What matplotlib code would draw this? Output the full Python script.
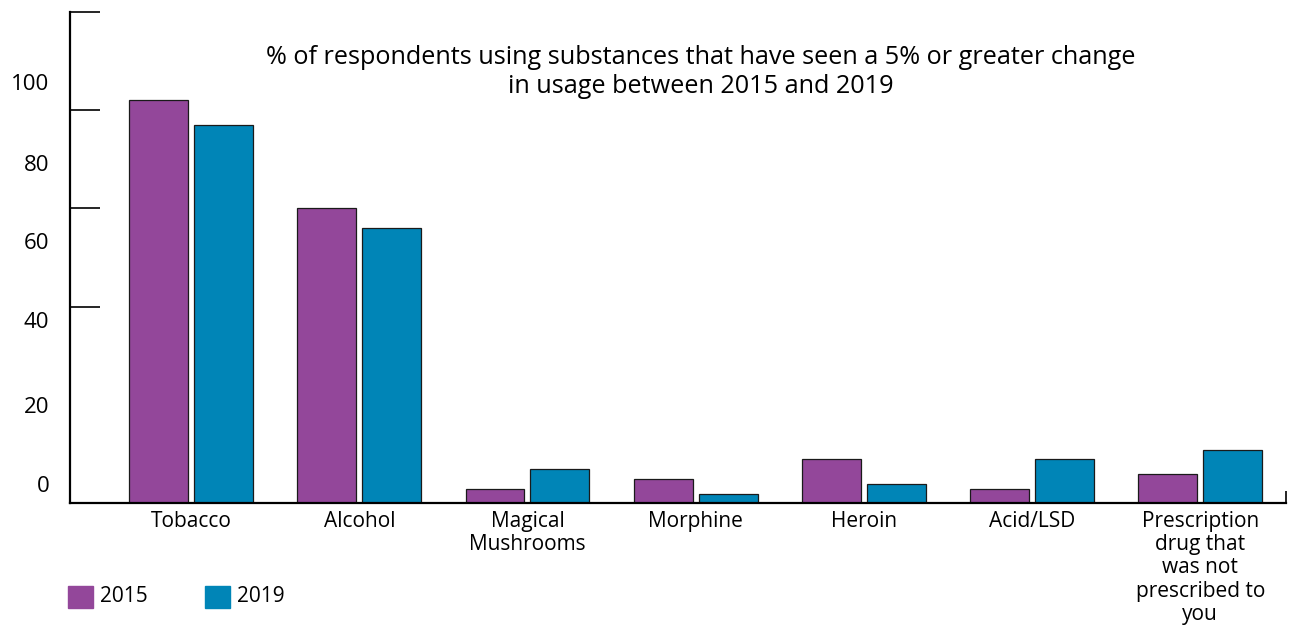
import matplotlib
matplotlib.use("Agg")
import matplotlib.pyplot as plt
import numpy as np

# usage (%) per substance
categories = ["Tobacco", "Alcohol", "Magical\nMushrooms", "Morphine", "Heroin",
              "Acid/LSD", "Prescription\ndrug that\nwas not\nprescribed to\nyou"]
usage_2015 = [82.1, 60.1, 2.9, 4.9, 9.0, 2.9, 5.9]
usage_2019 = [77.0, 56.0, 6.9, 1.8, 3.9, 9.0, 10.8]
ytick_labels = ["0", "20", "40", "60", "80", "100"]

c2015 = "#93479a"
c2019 = "#0085b7"

plt.rcParams["font.family"] = ["Open Sans", "DejaVu Sans"]

fig = plt.figure(figsize=(12.94, 6.30), dpi=100)
ax = fig.add_axes([70 / 1294, 127 / 630, 1216 / 1294, 491 / 630])

x = np.arange(len(categories))
w = 0.35
off = 0.193
ax.bar(x - off, usage_2015, w, color=c2015, edgecolor="#1a1a1a", linewidth=0.9, zorder=2)
ax.bar(x + off, usage_2019, w, color=c2019, edgecolor="#1a1a1a", linewidth=0.9, zorder=2)

ax.set_xlim(-0.72, 6.51)
ax.set_ylim(0, 100)

for s in ["top", "right"]:
    ax.spines[s].set_visible(False)
ax.spines["left"].set_linewidth(1.6)
ax.spines["bottom"].set_linewidth(1.6)

# tick marks every 20, labels sit on their own positions
ax.set_yticks(np.arange(0, 101, 20), minor=True)
ax.set_yticks([3.9, 20.0, 37.3, 53.4, 69.2, 85.7])
ax.set_yticklabels(ytick_labels, fontsize=16)
ax.tick_params(axis="y", which="major", length=0, pad=15)
ax.tick_params(axis="y", which="minor", direction="in", length=21.6, width=1.2)

ax.set_xticks(x)
ax.set_xticklabels(categories, fontsize=15, linespacing=1.13)
ax.tick_params(axis="x", which="major", length=0, pad=6)
ax.set_xticks([6.51], minor=True)
ax.tick_params(axis="x", which="minor", direction="in", length=9, width=1.2)

fig.text(701 / 1294, 1 - 72 / 630, "% of respondents using substances that have seen a 5% or greater change\n"
         "in usage between 2015 and 2019", ha="center", va="center",
         fontsize=18.2, linespacing=1.25)

# legend
for px, col, lab in [(68, c2015, "2015"), (205, c2019, "2019")]:
    fig.patches.append(plt.Rectangle((px / 1294, 22 / 630), 25 / 1294, 22 / 630,
                                     transform=fig.transFigure, color=col))
    fig.text((px + 32) / 1294, 33 / 630, lab, va="center", ha="left", fontsize=15)

fig.savefig("out.png", dpi=100)
